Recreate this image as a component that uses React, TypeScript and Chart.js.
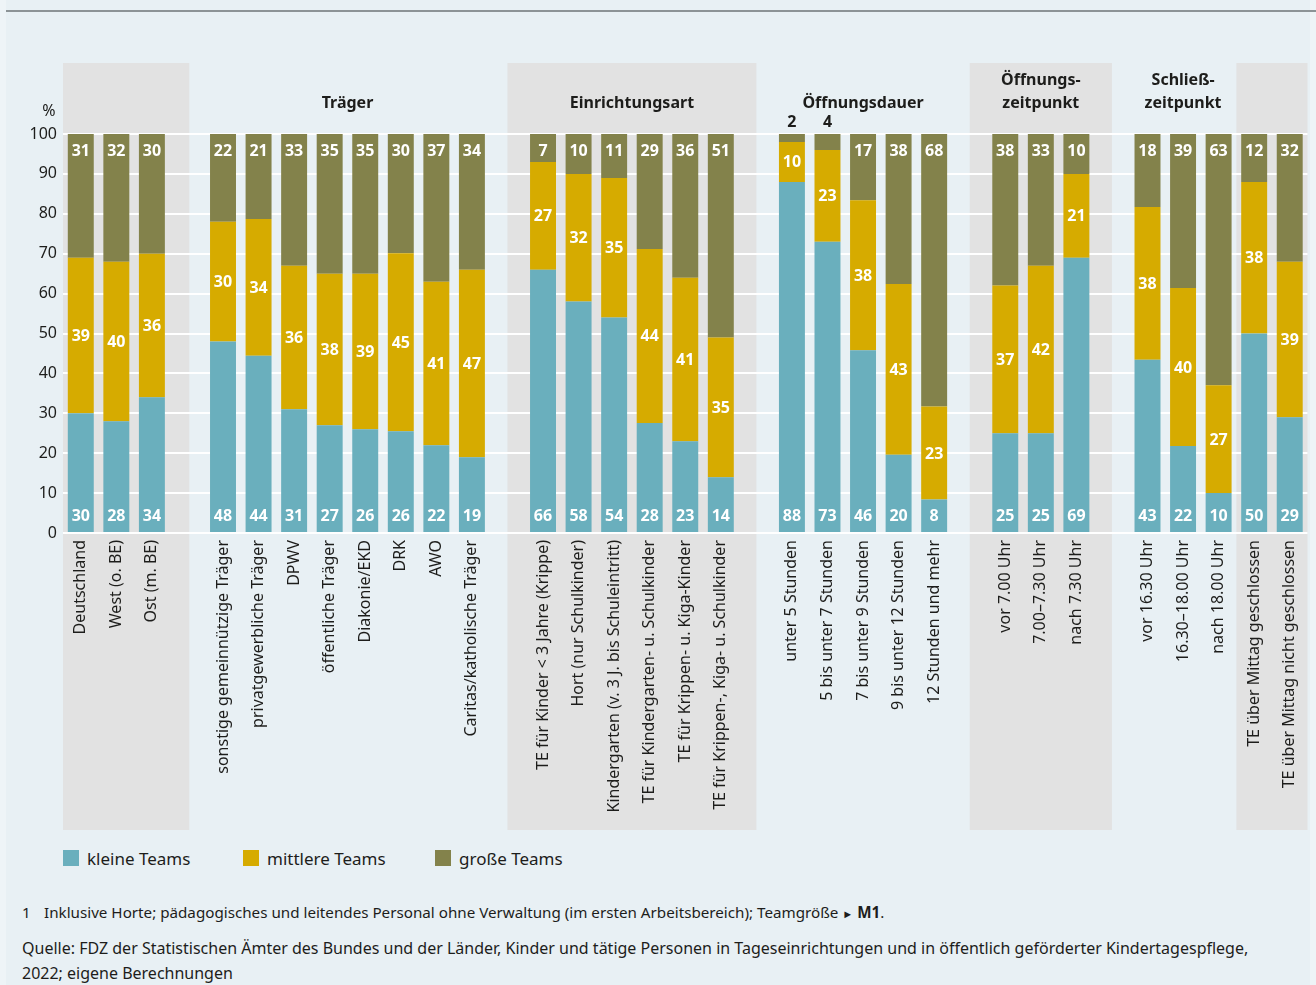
import React, { useEffect, useRef } from "react";
import { Chart, registerables } from "chart.js";

Chart.register(...registerables);

// Categories ("" = spacer slot between groups)
const categories: string[] = [
  "Deutschland",
  "West (o. BE)",
  "Ost (m. BE)",
  "",
  "sonstige gemeinnützige Träger",
  "privatgewerbliche Träger",
  "DPWV",
  "öffentliche Träger",
  "Diakonie/EKD",
  "DRK",
  "AWO",
  "Caritas/katholische Träger",
  "",
  "TE für Kinder < 3 Jahre (Krippe)",
  "Hort (nur Schulkinder)",
  "Kindergarten (v. 3 J. bis Schuleintritt)",
  "TE für Kindergarten- u. Schulkinder",
  "TE für Krippen- u. Kiga-Kinder",
  "TE für Krippen-, Kiga- u. Schulkinder",
  "",
  "unter 5 Stunden",
  "5 bis unter 7 Stunden",
  "7 bis unter 9 Stunden",
  "9 bis unter 12 Stunden",
  "12 Stunden und mehr",
  "",
  "vor 7.00 Uhr",
  "7.00–7.30 Uhr",
  "nach 7.30 Uhr",
  "",
  "vor 16.30 Uhr",
  "16.30–18.00 Uhr",
  "nach 18.00 Uhr",
  "TE über Mittag geschlossen",
  "TE über Mittag nicht geschlossen",
];

const kleineTeams: (number | null)[] = [
  30, 28, 34, null,
  48, 44.4, 31, 27, 26, 25.5, 22, 19, null,
  66, 58, 54, 27.6, 23, 14, null,
  88, 73, 45.8, 19.6, 8.4, null,
  25, 25, 69, null,
  43.4, 21.8, 10, 50, 29,
];

const mittlereTeams: (number | null)[] = [
  39, 40, 36, null,
  30, 34.3, 36, 38, 39, 44.6, 41, 47, null,
  27, 32, 35, 43.6, 41, 35, null,
  10, 23, 37.6, 42.8, 23.3, null,
  37, 42, 21, null,
  38.3, 39.6, 27, 38, 39,
];

const grosseTeams: (number | null)[] = [
  31, 32, 30, null,
  22, 21.3, 33, 35, 35, 29.9, 37, 34, null,
  7, 10, 11, 28.8, 36, 51, null,
  2, 4, 16.6, 37.6, 68.3, null,
  38, 33, 10, null,
  18.3, 38.6, 63, 12, 32,
];

const seriesNames = ["kleine Teams", "mittlere Teams", "große Teams"];
const seriesColors = ["#6aafbd", "#d6ab00", "#83824b"];

const yTicks = [0, 10, 20, 30, 40, 50, 60, 70, 80, 90, 100];

// Group headings: lines and first/last category index of the group
const groupTitles: { lines: string[]; from: number; to: number }[] = [
  { lines: ["Träger"], from: 4, to: 11 },
  { lines: ["Einrichtungsart"], from: 13, to: 18 },
  { lines: ["Öffnungsdauer"], from: 20, to: 24 },
  { lines: ["Öffnungs-", "zeitpunkt"], from: 26, to: 28 },
  { lines: ["Schließ-", "zeitpunkt"], from: 30, to: 32 },
];

// Shaded bands, in category-index units
const bandRanges: [number, number][] = [
  [-0.5, 3.05],
  [12, 19],
  [25, 29],
  [32.5, 34.5],
];

const FONT = '"Noto Sans", "Open Sans", sans-serif';
const TEXT = "#1d1d1b";
const BAND = "#e2e2e2";

const decorPlugin = {
  id: "decor",
  beforeDraw(chart: any) {
    const { ctx, chartArea, scales } = chart;
    const xs = scales.x;
    ctx.save();
    ctx.fillStyle = BAND;
    const top = chartArea.top - 71;
    const bottom = chartArea.bottom + 297;
    for (const [a, b] of bandRanges) {
      const x0 = Math.max(chartArea.left, xs.getPixelForValue(a));
      const x1 = Math.min(chartArea.right, xs.getPixelForValue(b));
      ctx.fillRect(x0, top, x1 - x0, bottom - top);
    }
    ctx.fillStyle = TEXT;
    ctx.font = `bold 16px ${FONT}`;
    ctx.textAlign = "center";
    ctx.textBaseline = "middle";
    for (const g of groupTitles) {
      const cx = xs.getPixelForValue((g.from + g.to) / 2);
      const n = g.lines.length;
      g.lines.forEach((line, k) => {
        const yy = chartArea.top - 31 - (n - 1 - k) * 23;
        ctx.fillText(line, cx, yy);
      });
    }
    ctx.font = `16px ${FONT}`;
    ctx.fillText("%", chartArea.left - 14, chartArea.top - 23);
    ctx.restore();
  },
  afterDatasetsDraw(chart: any) {
    const { ctx } = chart;
    ctx.save();
    ctx.textAlign = "center";
    ctx.textBaseline = "middle";
    ctx.font = `bold 16px ${FONT}`;
    chart.data.datasets.forEach((ds: any, di: number) => {
      const meta = chart.getDatasetMeta(di);
      meta.data.forEach((bar: any, i: number) => {
        const v = ds.data[i];
        if (v == null) return;
        const { x, y, base } = bar.getProps(["x", "y", "base"], true);
        const h = base - y;
        const label = String(Math.round(v));
        let ty: number;
        let color = "#ffffff";
        if (di === 0) ty = base - 16;
        else if (di === 1) ty = (y + base) / 2 + 1;
        else if (h < 20) {
          ty = y - 12;
          color = TEXT;
        } else ty = y + 17;
        ctx.fillStyle = color;
        ctx.fillText(label, x, ty);
      });
    });
    ctx.restore();
  },
};

export default function App() {
  const ref = useRef<HTMLCanvasElement | null>(null);

  useEffect(() => {
    document.body.style.margin = "0";
    if (!ref.current) return;
    const data = [kleineTeams, mittlereTeams, grosseTeams];
    const chart = new Chart(ref.current, {
      type: "bar",
      data: {
        labels: categories,
        datasets: data.map((d, i) => ({
          label: seriesNames[i],
          data: d,
          backgroundColor: seriesColors[i],
          borderWidth: 0,
          barPercentage: 0.73,
          categoryPercentage: 1,
        })),
      },
      options: {
        responsive: false,
        animation: false,
        events: [],
        layout: { padding: { left: 1, right: 5, top: 134, bottom: 0 } },
        plugins: {
          legend: { display: false },
          tooltip: { enabled: false },
          title: { display: false },
        },
        scales: {
          x: {
            stacked: true,
            offset: true,
            grid: { display: false, drawTicks: false },
            border: { display: false },
            ticks: {
              autoSkip: false,
              maxRotation: 90,
              minRotation: 90,
              padding: 7,
              color: TEXT,
              font: { family: FONT, size: 16 },
            },
            afterFit(scale: any) {
              scale.height = 307;
            },
          },
          y: {
            stacked: true,
            min: 0,
            max: 100,
            afterBuildTicks(scale: any) {
              scale.ticks = yTicks.map((v) => ({ value: v }));
            },
            grid: { color: "#ffffff", lineWidth: 2, drawTicks: false },
            border: { display: false },
            ticks: {
              padding: 6,
              color: TEXT,
              font: { family: FONT, size: 16 },
            },
            afterFit(scale: any) {
              scale.width = 62;
            },
          },
        },
      },
      plugins: [decorPlugin],
    });
    return () => chart.destroy();
  }, []);

  const legendX = [63, 243, 435];

  return (
    <div
      style={{
        position: "relative",
        width: 1316,
        height: 985,
        background: "#eef4f7",
        fontFamily: FONT,
        color: TEXT,
        overflow: "hidden",
      }}
    >
      <div style={{ position: "absolute", left: 6, top: 0, width: 1304, height: 985, background: "#e8f0f4" }} />
      <div style={{ position: "absolute", left: 6, top: 10, width: 1310, height: 2, background: "#8c9396" }} />
      <canvas
        ref={ref}
        width={1316}
        height={840}
        style={{ position: "absolute", left: 0, top: 0, width: 1316, height: 840 }}
      />
      {seriesNames.map((n, i) => (
        <div
          key={n}
          style={{ position: "absolute", left: legendX[i], top: 846, height: 24, display: "flex", alignItems: "center", fontSize: 17 }}
        >
          <span style={{ display: "inline-block", width: 16, height: 16, background: seriesColors[i], marginRight: 8 }} />
          <span>{n}</span>
        </div>
      ))}
      <div style={{ position: "absolute", left: 22, top: 900, fontSize: 15, lineHeight: "24px" }}>1</div>
      <div style={{ position: "absolute", left: 44, top: 900, fontSize: 15.2, lineHeight: "24px", whiteSpace: "nowrap" }}>
        Inklusive Horte; pädagogisches und leitendes Personal ohne Verwaltung (im ersten Arbeitsbereich); Teamgröße{" "}
        <span style={{ fontSize: 11 }}>►</span> <b>M1</b>.
      </div>
      <div style={{ position: "absolute", left: 22, top: 936, fontSize: 16, lineHeight: "25px", whiteSpace: "nowrap" }}>
        Quelle: FDZ der Statistischen Ämter des Bundes und der Länder, Kinder und tätige Personen in Tageseinrichtungen und in öffentlich geförderter Kindertagespflege,
        <br />
        2022; eigene Berechnungen
      </div>
    </div>
  );
}
